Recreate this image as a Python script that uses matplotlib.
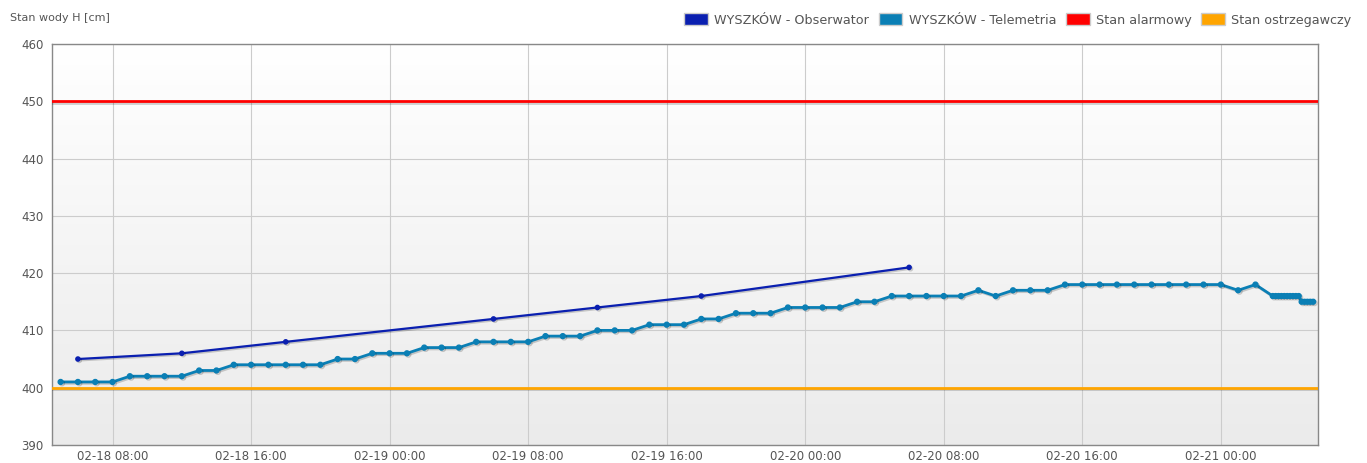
import matplotlib.pyplot as plt
import matplotlib.dates as mdates
import matplotlib.patheffects as pe
from matplotlib.patches import Patch
from matplotlib.colors import LinearSegmentedColormap
import numpy as np
import pandas as pd

# Obserwator (co 6 godzin)
obs_time = ["2025-02-18 06:00", "2025-02-18 12:00", "2025-02-18 18:00",
            "2025-02-19 06:00", "2025-02-19 12:00", "2025-02-19 18:00",
            "2025-02-20 06:00"]
obs_val = [405, 406, 408, 412, 414, 416, 421]

# Telemetria - pomiary godzinowe od 02-18 05:00 do 02-21 03:00
tel_start = "2025-02-18 05:00"
tel_hourly = [401, 401, 401, 401, 402, 402, 402, 402, 403, 403, 404, 404,
              404, 404, 404, 404, 405, 405, 406,
              406, 406, 407, 407, 407, 408, 408, 408, 408, 409, 409, 409,
              410, 410, 410, 411, 411, 411, 412, 412, 413, 413, 413, 414,
              414, 414, 414, 415, 415, 416, 416, 416, 416, 416, 417, 416,
              417, 417, 417, 418, 418, 418, 418, 418, 418, 418, 418, 418,
              418, 417, 418, 416]
# Telemetria - pomiary co 10 minut od 02-21 03:10
tel_10min_start = "2025-02-21 03:10"
tel_10min = [416, 416, 416, 416, 416, 416, 416, 416, 416,
             415, 415, 415, 415, 415]

alarm_level = 450
warning_level = 400

obs_t = pd.to_datetime(obs_time)
tel_t = list(pd.date_range(tel_start, periods=len(tel_hourly), freq="h")) + \
    list(pd.date_range(tel_10min_start, periods=len(tel_10min), freq="10min"))
tel_v = tel_hourly + tel_10min

c_obs = "#0a1fb0"
c_tel = "#0a7fb5"
c_alarm = "#ff0000"
c_warn = "#ffa500"
txt = "#555555"

fig = plt.figure(figsize=(13.67, 4.63), dpi=100)
ax = fig.add_axes([0.038, 0.039, 0.926, 0.866])

# tło z gradientem
grad = np.linspace(0, 1, 256).reshape(-1, 1)
ax.imshow(grad, extent=[0, 1, 0, 1], transform=ax.transAxes, aspect="auto",
          cmap=LinearSegmentedColormap.from_list("bg", ["#ebebeb", "#ffffff"]),
          origin="lower", zorder=0)

shadow = [pe.SimpleLineShadow(offset=(1, -1), alpha=0.18), pe.Normal()]

ax.axhline(alarm_level, color=c_alarm, lw=2, zorder=3, path_effects=shadow)
ax.axhline(warning_level, color=c_warn, lw=2, zorder=3, path_effects=shadow)
ax.plot(tel_t, tel_v, color=c_tel, lw=2, marker="o", ms=3.5, zorder=4,
        path_effects=shadow)
ax.plot(obs_t, obs_val, color=c_obs, lw=1.6, marker="o", ms=3, zorder=5,
        path_effects=shadow)

ax.set_xlim(pd.Timestamp("2025-02-18 04:30"), pd.Timestamp("2025-02-21 05:36"))
ax.set_ylim(390, 460)
ax.set_yticks(range(390, 461, 10))
ax.xaxis.set_major_locator(mdates.HourLocator(byhour=[0, 8, 16]))
ax.xaxis.set_major_formatter(mdates.DateFormatter("%m-%d %H:%M"))
ax.grid(True, color="#cccccc", lw=0.8, zorder=1)
ax.set_axisbelow(True)
ax.tick_params(length=0, labelsize=8.5, colors=txt)
ax.tick_params(axis="x", pad=4)
ax.tick_params(axis="y", pad=6)
for s in ax.spines.values():
    s.set_color("#888888")
    s.set_linewidth(1)

fig.text(0.007, 0.955, "Stan wody H [cm]", fontsize=8, color=txt)

handles = [Patch(facecolor=c, edgecolor="#cccccc", lw=1) for c in
           [c_obs, c_tel, c_alarm, c_warn]]
labels = ["WYSZKÓW - Obserwator", "WYSZKÓW - Telemetria",
          "Stan alarmowy", "Stan ostrzegawczy"]
leg = fig.legend(handles, labels, loc="center right", bbox_to_anchor=(0.997, 0.957),
                 ncol=4, frameon=False, fontsize=9.2, handlelength=1.85,
                 handleheight=1.1, columnspacing=0.75, handletextpad=0.5)
for t in leg.get_texts():
    t.set_color(txt)

fig.savefig("out.png", dpi=100)
